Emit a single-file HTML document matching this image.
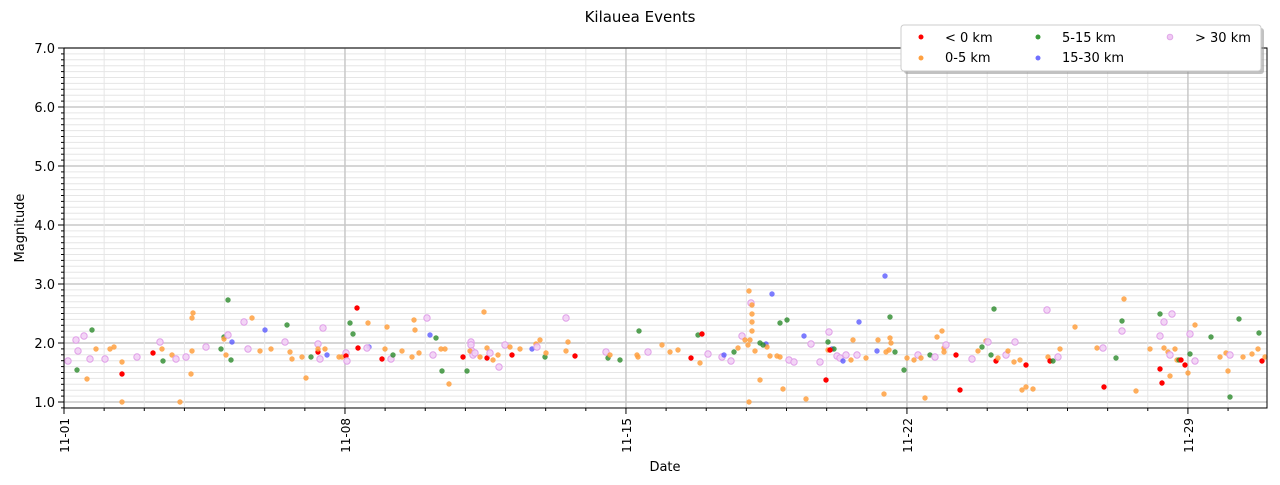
<!DOCTYPE html>
<html><head><meta charset="utf-8"><style>
body{margin:0;background:#fff;font-family:"Liberation Sans","DejaVu Sans",sans-serif}
</style></head><body>
<svg id="s" width="1280" height="480" xmlns="http://www.w3.org/2000/svg" font-family="DejaVu Sans, Liberation Sans, sans-serif">
<rect width="1280" height="480" fill="#fff"/>
<g id="grid"></g>
<g id="pts"></g>
<rect x="64" y="48" width="1203" height="360" fill="none" stroke="#000" stroke-width="1"/>
<g id="ticks"></g>
<text x="640" y="22" font-size="15" text-anchor="middle">Kilauea Events</text>
<text x="665" y="471" font-size="13" text-anchor="middle">Date</text>
<text x="24" y="228" font-size="13" text-anchor="middle" transform="rotate(-90 24 228)">Magnitude</text>
<g>
<rect x="904" y="28" width="360" height="46" rx="3" fill="#999" opacity="0.6"/>
<rect x="901" y="25" width="360" height="46" rx="3" fill="#fff" stroke="#ccc"/>
<circle cx="921" cy="37" r="2.5" fill="#f00"/><text x="945" y="42" font-size="13">&lt; 0 km</text>
<circle cx="921" cy="58" r="2.5" fill="#ffa040"/><text x="945" y="62" font-size="13">0-5 km</text>
<circle cx="1038" cy="37" r="2.5" fill="#3a9a3a"/><text x="1062" y="42" font-size="13">5-15 km</text>
<circle cx="1038" cy="58" r="2.5" fill="#7070ff"/><text x="1062" y="62" font-size="13">15-30 km</text>
<circle cx="1170" cy="37" r="2.8" fill="#f0c8f4" stroke="#e0a8e8"/><text x="1195" y="42" font-size="13">&gt; 30 km</text>
</g>
</svg>
<script>
var NS="http://www.w3.org/2000/svg";
function el(p,t,a,txt){var e=document.createElementNS(NS,t);for(var k in a)e.setAttribute(k,a[k]);if(txt)e.textContent=txt;p.appendChild(e);return e;}
var g=document.getElementById('grid'),tk=document.getElementById('ticks'),P=document.getElementById('pts');
function Y(m){return 402-(m-1)*59;}
function X(d){return 64+d*40.14;}
for(var i=9;i<=70;i++){var m=i/10,y=Y(m);if(y<48||y>408)continue;
 if(i%10==0){el(g,'line',{x1:64,x2:1267,y1:y,y2:y,stroke:'#c8c8c8','stroke-width':1.5});el(tk,'line',{x1:58,x2:64,y1:y,y2:y,stroke:'#000'});el(tk,'text',{x:55,y:y+5,'font-size':13,'text-anchor':'end'},m.toFixed(1));}
 else{el(g,'line',{x1:64,x2:1267,y1:y,y2:y,stroke:'#e6e6e6','stroke-width':1});el(tk,'line',{x1:61,x2:64,y1:y,y2:y,stroke:'#000'});}}
var lab=['11-01','11-08','11-15','11-22','11-29'];
for(var d=0;d<=29;d++){var x=X(d);if(x>1267)break;
 if(d%7==0){el(g,'line',{x1:x,x2:x,y1:48,y2:408,stroke:'#c8c8c8','stroke-width':1.5});el(tk,'line',{x1:x,x2:x,y1:408,y2:414,stroke:'#000'});
  el(tk,'text',{x:x+5,y:418,'font-size':12,'text-anchor':'end',transform:'rotate(-90 '+(x+5)+' 418)'},lab[d/7]);}
 else{el(g,'line',{x1:x,x2:x,y1:48,y2:408,stroke:'#e6e6e6'});el(tk,'line',{x1:x,x2:x,y1:408,y2:411,stroke:'#000'});}}
var C={r:['#ff0000',1],o:['#ffa040',0.85],g:['#2a8a2a',0.8],b:['#5050ff',0.75],v:['#eab8ef',0.85]};
var pts=[
['v',68,361],['v',76,340],['v',78,351],['g',77,370],['v',84,336],['o',87,379],['g',92,330],['v',90,359],['o',96,349],['v',105,359],['o',110,349],['o',114,347],['r',122,374],['o',122,362],['o',122,402],['v',137,357],['r',153,353],['o',162,349],['g',163,361],['v',160,342],['o',172,355],['v',176,359],['o',180,402],['v',186,357],['o',191,374],['o',192,318],['o',193,313],['o',192,351],['v',206,347],['g',221,349],['g',224,337],['o',224,339],['g',228,300],['v',228,335],['b',232,342],['o',226,355],['g',231,360],['v',244,322],['o',252,318],['v',248,349],['o',260,351],['b',265,330],['o',271,349],['v',285,342],['g',287,325],['o',290,352],['o',292,359],['o',302,357],['o',306,378],['g',311,357],['v',318,344],['r',318,352],['v',320,359],['o',318,349],['v',323,328],['b',327,355],['o',325,349],['o',339,357],['o',342,357],['v',346,353],['r',346,356],['v',347,361],['g',350,323],['g',353,334],['r',357,308],['r',358,348],['o',368,323],['b',369,347],['v',367,348],['r',382,359],['o',387,327],['o',385,349],['v',391,359],['g',393,355],['o',402,351],['o',412,357],['o',414,320],['o',415,330],['o',419,353],['v',427,318],['b',430,335],['v',433,355],['g',436,338],['o',441,349],['g',442,371],['o',445,349],['o',449,384],['r',463,357],['g',467,371],['v',471,342],['v',471,345],['v',472,351],['v',473,355],['o',470,351],['v',475,353],['o',480,357],['o',484,312],['r',487,358],['o',487,348],['v',490,353],['v',499,367],['o',493,360],['o',498,355],['v',505,345],['o',510,347],['r',512,355],['o',520,349],['b',532,349],['o',536,344],['v',537,347],['o',540,340],['g',545,357],['o',546,353],['v',566,318],['o',568,342],['o',566,351],['r',575,356],['v',606,352],['g',608,358],['o',610,355],['g',620,360],['o',637,355],['o',638,357],['g',639,331],['v',648,352],['o',662,345],['o',670,352],['o',678,350],['r',691,358],['g',698,335],['r',702,334],['o',700,363],['v',708,354],['v',722,357],['b',724,355],['v',731,361],['g',734,352],['o',738,348],['v',742,336],['o',745,340],['o',748,345],['o',749,291],['o',749,402],['v',751,303],['o',752,305],['o',752,314],['o',752,322],['o',752,331],['o',750,340],['o',755,351],['o',760,380],['g',760,343],['b',766,344],['o',767,347],['g',763,345],['b',772,294],['o',770,356],['o',777,356],['g',780,323],['o',780,357],['o',783,389],['g',787,320],['v',789,360],['v',794,362],['b',804,336],['o',806,399],['v',811,344],['v',820,362],['r',826,380],['g',828,342],['v',829,332],['o',828,350],['b',832,349],['g',834,349],['r',830,350],['v',837,356],['v',840,358],['b',843,361],['v',846,355],['o',851,360],['o',853,340],['v',857,355],['b',859,322],['o',866,358],['b',877,351],['o',878,340],['b',885,276],['o',884,394],['o',886,352],['o',889,350],['o',890,338],['g',890,317],['o',891,343],['g',895,352],['g',904,370],['o',907,358],['o',914,360],['v',918,355],['o',921,358],['o',925,398],['g',930,355],['v',935,357],['o',937,337],['o',942,331],['o',944,348],['v',946,345],['o',944,352],['r',956,355],['r',960,390],['v',972,359],['o',978,351],['g',982,347],['o',986,341],['v',988,342],['g',991,355],['g',994,309],['r',996,361],['o',998,358],['v',1006,355],['o',1008,351],['o',1014,362],['v',1015,342],['o',1020,360],['o',1022,390],['o',1026,387],['r',1026,365],['o',1033,389],['v',1047,310],['o',1048,357],['r',1050,361],['g',1053,361],['v',1058,357],['o',1060,349],['o',1075,327],['o',1097,348],['v',1103,348],['r',1104,387],['g',1116,358],['g',1122,321],['o',1124,299],['v',1122,331],['o',1136,391],['o',1150,349],['v',1160,336],['g',1160,314],['r',1160,369],['r',1162,383],['o',1164,348],['v',1164,322],['o',1168,352],['o',1170,376],['v',1170,355],['v',1172,314],['o',1175,349],['o',1177,360],['g',1179,360],['r',1181,360],['r',1185,365],['o',1188,373],['g',1190,354],['v',1190,334],['o',1195,325],['v',1195,361],['g',1211,337],['o',1220,357],['o',1226,353],['o',1228,371],['g',1230,397],['v',1230,355],['g',1239,319],['o',1243,357],['o',1252,354],['o',1258,349],['g',1259,333],['r',1262,361],['o',1265,357]
];
pts.forEach(function(p){var c=C[p[0]];var a={cx:p[1],cy:p[2],r:2.7,fill:c[0],'fill-opacity':c[1]};if(p[0]=='v'){a.r=3.2;a.stroke='#e0a0e8';a['stroke-width']=1;a.fill='#f2d0f5';a['fill-opacity']=0.9;}el(P,'circle',a);});
</script>
</body></html>
